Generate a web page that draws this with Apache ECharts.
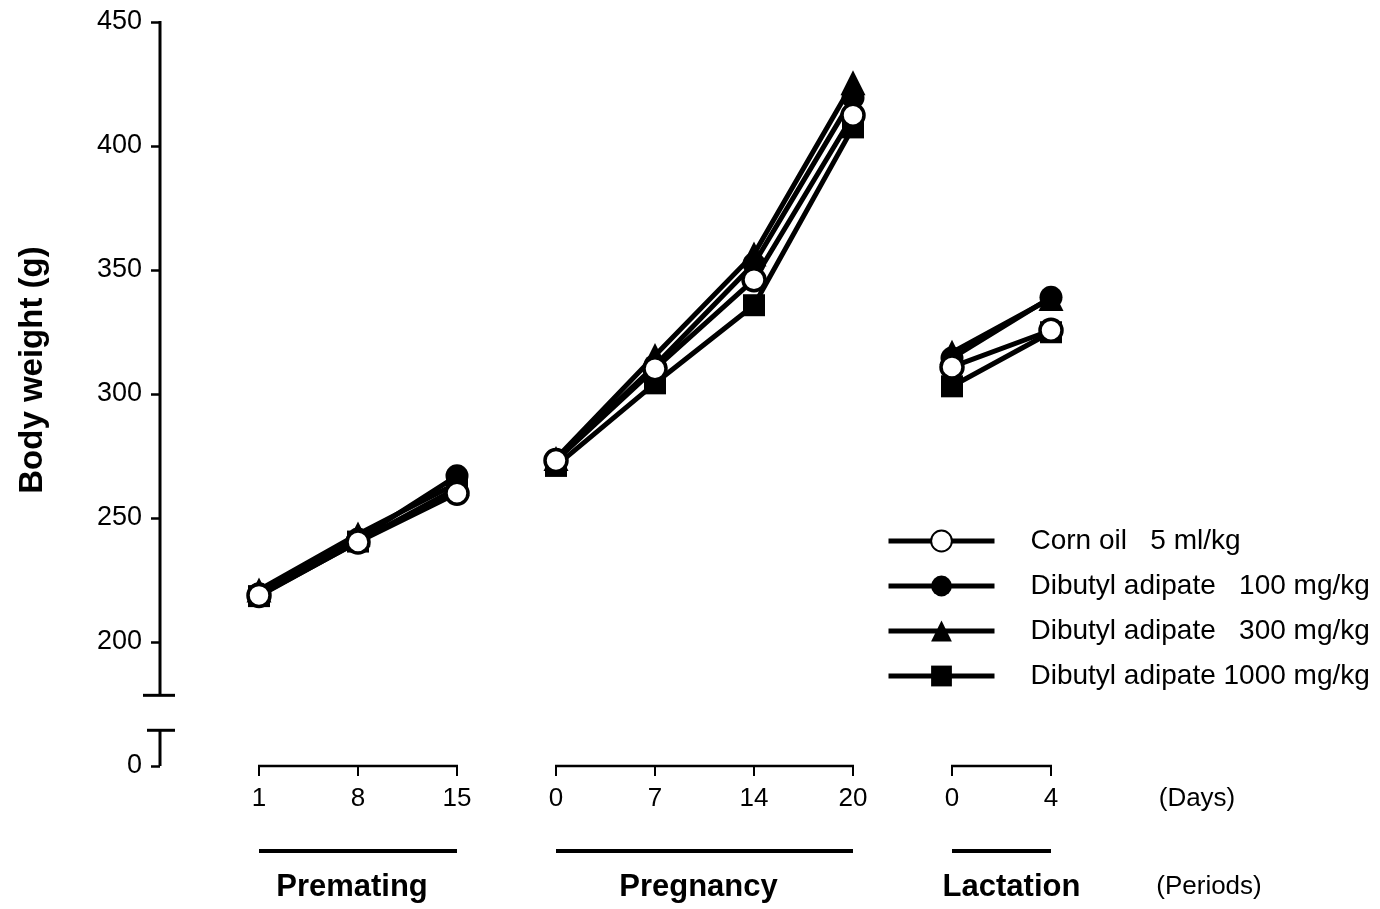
<!DOCTYPE html>
<html><head><meta charset="utf-8">
<script src="https://cdn.jsdelivr.net/npm/echarts@6/dist/echarts.min.js"></script>
<style>html,body{margin:0;padding:0;background:#fff}#c{width:1380px;height:909px}</style>
</head><body><div id="c"></div>
<script>
// ---- data ----
const dayLabels = ['1','8','15','0','7','14','20','0','4'];
const periods = ['Premating','Pregnancy','Lactation'];
const periodIdx = [[0,1,2],[3,4,5,6],[7,8]];
const seriesNames = ['Corn oil   5 ml/kg','Dibutyl adipate   100 mg/kg','Dibutyl adipate   300 mg/kg','Dibutyl adipate 1000 mg/kg'];
const cornOil  = [218.8, 240.3, 260.0, 273.2, 310.2, 346.1, 412.4, 310.9, 325.7];
const dba100   = [219.5, 241.5, 267.0, 273.5, 311.5, 352.5, 419.5, 314.5, 339.0];
const dba300   = [221.0, 243.5, 264.0, 274.0, 315.5, 356.5, 425.5, 316.8, 338.5];
const dba1000  = [218.5, 240.5, 262.0, 271.0, 304.3, 335.8, 407.5, 303.1, 324.9];
const yTickValues = [150, 200, 250, 300, 350, 400, 450]; // 150 = broken-axis position of 0
const yTickLabels = ['0','200','250','300','350','400','450'];
const yBreakLow = 164.4, yBreakHigh = 178.5;

const FONT = '"Liberation Sans", Arial, Helvetica, sans-serif';

function buildData(vals){
  const out = [];
  periodIdx.forEach((grp, gi) => {
    grp.forEach(i => out.push([i, vals[i]]));
    if (gi < periodIdx.length - 1) out.push([grp[grp.length-1] + 0.5, null]);
  });
  return out;
}

const styles = [
  {symbol:'circle', size:22, item:{color:'#fff', borderColor:'#000', borderWidth:3.5}, z:5},
  {symbol:'circle', size:23, item:{color:'#000'}, z:4},
  {symbol:'triangle', size:25, item:{color:'#000'}, z:3},
  {symbol:'rect', size:22, item:{color:'#000'}, z:2}
];
const vals = [cornOil, dba100, dba300, dba1000];

const series = [3,2,1,0].map(k => ({
  name: seriesNames[k],
  type: 'line',
  data: buildData(vals[k]),
  connectNulls: false,
  symbol: styles[k].symbol,
  symbolSize: styles[k].size,
  showSymbol: true,
  itemStyle: styles[k].item,
  lineStyle: {color:'#000', width:5},
  z: styles[k].z,
  animation: false
}));

const chart = echarts.init(document.getElementById('c'), null, {renderer:'canvas'});
chart.setOption({
  animation: false,
  backgroundColor: '#fff',
  grid: {left:160, right:329, top:22, bottom:143},
  xAxis: {
    type:'value', min:-1, max:8,
    axisLine:{show:false, onZero:false},
    splitLine:{show:false},
    axisTick:{show:true, customValues:[0,1,2,3,4,5,6,7,8], length:10, lineStyle:{color:'#000', width:2}},
    axisLabel:{customValues:[0,1,2,3,4,5,6,7,8], formatter: v => dayLabels[v] || '', fontSize:26, color:'#000', fontFamily:FONT, margin:20}
  },
  yAxis: {
    type:'value', min:150, max:450,
    axisLine:{show:false, onZero:false},
    splitLine:{show:false},
    axisTick:{show:true, customValues:yTickValues, length:9, lineStyle:{color:'#000', width:2.5}},
    axisLabel:{customValues:yTickValues, formatter: v => yTickLabels[yTickValues.indexOf(v)], fontSize:27, color:'#000', fontFamily:FONT, margin:18}
  },
  legend: {
    orient:'vertical', left:881, top:522,
    data: seriesNames,
    itemWidth:106, itemHeight:26, itemGap:17,
    lineStyle:{width:5, color:'#000'},
    textStyle:{fontSize:28, color:'#000', fontFamily:FONT, padding:[0,0,0,31]},
    selectedMode:false
  },
  series: series
});

function px(x, y){ return chart.convertToPixel({gridIndex:0}, [x, y]); }

const g = [];
const lineStyle = {stroke:'#000', lineWidth:3};
// y axis with break
const yTop = px(-1, 450), yHi = px(-1, yBreakHigh), yLo = px(-1, yBreakLow), yBot = px(-1, 150);
g.push({type:'line', shape:{x1:yTop[0], y1:yTop[1]-1, x2:yHi[0], y2:yHi[1]}, style:lineStyle});
g.push({type:'line', shape:{x1:yHi[0]-17, y1:yHi[1], x2:yHi[0]+15, y2:yHi[1]}, style:lineStyle});
g.push({type:'line', shape:{x1:yLo[0]-13, y1:yLo[1], x2:yLo[0]+15, y2:yLo[1]}, style:lineStyle});
g.push({type:'line', shape:{x1:yLo[0], y1:yLo[1], x2:yBot[0], y2:yBot[1]}, style:lineStyle});
// x axis segments and period bars
const labelShift = [-6, -6, 10];
periodIdx.forEach((grp, gi) => {
  const a = px(grp[0], 150), b = px(grp[grp.length-1], 150);
  g.push({type:'line', shape:{x1:a[0]-1, y1:a[1], x2:b[0]+1, y2:b[1]}, style:{stroke:'#000', lineWidth:2.5}});
  const barY = a[1] + 85;
  g.push({type:'line', shape:{x1:a[0], y1:barY, x2:b[0], y2:barY}, style:{stroke:'#000', lineWidth:4}});
  g.push({type:'text', x:(a[0]+b[0])/2 + labelShift[gi], y:a[1] + 121, style:{text:periods[gi], font:'bold 31px '+FONT, fill:'#000', align:'center', verticalAlign:'middle'}});
});
const last = px(8, 150);
g.push({type:'text', x:last[0]+146, y:last[1]+33, style:{text:'(Days)', font:'26px '+FONT, fill:'#000', align:'center', verticalAlign:'middle'}});
g.push({type:'text', x:last[0]+158, y:last[1]+121, style:{text:'(Periods)', font:'26px '+FONT, fill:'#000', align:'center', verticalAlign:'middle'}});
// y axis name
g.push({type:'text', x:33, y:370, rotation:Math.PI/2, style:{text:'Body weight (g)', font:'bold 33px '+FONT, fill:'#000', align:'center', verticalAlign:'middle'}});
chart.setOption({graphic: g});
</script>
</body></html>
